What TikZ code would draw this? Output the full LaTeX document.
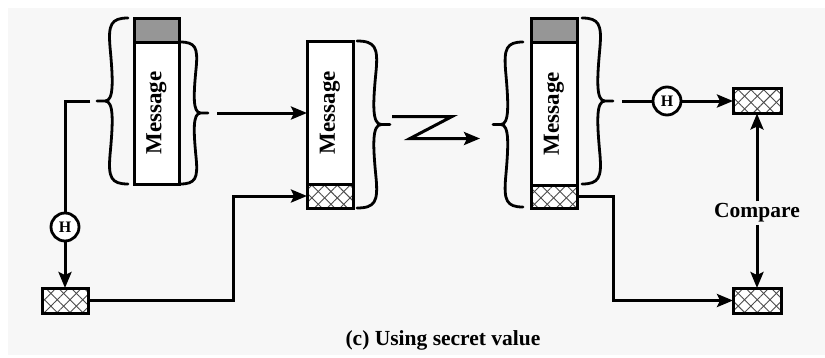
\documentclass[tikz,border=0pt]{standalone}
\usepackage{fontspec}
\setmainfont{Liberation Serif}
\usetikzlibrary{arrows.meta,patterns.meta,calc}
\definecolor{paper}{RGB}{247,247,247}
\definecolor{hdr}{RGB}{150,150,150}

% curly brace: x0, y top, y bottom, signed width, name of the tip coordinate
\newcommand\curlybrace[5]{%
  \pgfmathsetmacro\bh{(#3-#2)/2}%
  \pgfmathsetmacro\bm{(#3+#2)/2}%
  \draw[bracestyle] (#1,#2)
    .. controls ({#1+0.55*#4},#2) and ({#1+0.64*#4},{#2+0.08*\bh}) .. ({#1+0.58*#4},{#2+0.35*\bh})
    .. controls ({#1+0.48*#4},{#2+0.75*\bh}) and ({#1+0.45*#4},\bm) .. ({#1+0.74*#4},\bm)
    .. controls ({#1+0.45*#4},\bm) and ({#1+0.48*#4},{#3-0.75*\bh}) .. ({#1+0.58*#4},{#3-0.35*\bh})
    .. controls ({#1+0.64*#4},{#3-0.08*\bh}) and ({#1+0.55*#4},#3) .. (#1,#3)
    ({#1+0.74*#4},\bm) -- ({#1+#4},\bm);
  \coordinate (#5) at ({#1+#4},\bm);
}

\begin{document}
\begin{tikzpicture}[x=1pt,y=-1pt,
  every node/.style={font=\bfseries\fontsize{21.5}{24}\selectfont},
  ln/.style={line width=3pt},
  arr/.style={line width=3pt,-{Stealth[length=16pt,width=13pt,inset=3pt]}},
  bracestyle/.style={line width=2.8pt,line join=round,line cap=round},
  part/.style={draw,line width=3pt,inner sep=0pt,outer sep=0pt,anchor=north west},
  hdrbox/.style={part,fill=hdr},
  msgbox/.style={part,fill=white,font=\bfseries\fontsize{23}{25}\selectfont},
  macbox/.style={part,
    preaction={fill=white},
    preaction={pattern={Lines[angle=45,distance=9pt,line width=0.9pt]},pattern color=black!70},
    preaction={pattern={Lines[angle=-45,distance=9pt,line width=0.9pt]},pattern color=black!70}},
  hashfn/.style={circle,draw,line width=2.8pt,fill=white,inner sep=0pt,minimum size=28pt,
    font=\bfseries\fontsize{16}{18}\selectfont}
]
\useasboundingbox (0,0) rectangle (825,357);
\fill[white] (0,0) rectangle (825,357);
\fill[paper] (8,8) rectangle (825,355);

% sender: message with secret value prepended
\node[hdrbox,minimum width=45pt,minimum height=24pt] (hdrA) at (134,18) {};
\node[msgbox,minimum width=45pt,minimum height=142pt] (msgA) at (134,42) {\rotatebox{90}{Message}};
\curlybrace{128}{18}{184}{-31}{tipA}
\curlybrace{180}{42}{184}{28}{tipA2}

% hash of secret value + message
\node[hashfn] (hA) at (65,227) {H};
\node[macbox,minimum width=46pt,minimum height=25pt] (keyA) at (42,288) {};

% transmitted block
\node[msgbox,minimum width=46pt,minimum height=143pt] (msgB) at (307,41) {\rotatebox{90}{Message}};
\node[macbox,minimum width=46pt,minimum height=24pt] (macB) at (307,184) {};
\curlybrace{357}{41}{208}{33}{tipB}

% receiver
\node[hdrbox,minimum width=46pt,minimum height=24pt] (hdrC) at (531,18) {};
\node[msgbox,minimum width=46pt,minimum height=143pt] (msgC) at (531,42) {\rotatebox{90}{Message}};
\node[macbox,minimum width=46pt,minimum height=23pt] (macC) at (531,185) {};
\curlybrace{523}{42}{207}{-30}{tipC}
\curlybrace{582}{18}{184}{31}{tipC2}

\node[hashfn] (hB) at (667,101) {H};
\node[macbox,minimum width=48pt,minimum height=25pt] (cmpA) at (733,88.5) {};
\node[macbox,minimum width=48pt,minimum height=25pt] (cmpB) at (733,288) {};
\node[inner sep=2pt] (cmp) at (757,213) {Compare};

\node (cap) at (443,340) {(c) Using secret value};

% connectors
\draw[ln] ($(tipA)+(-7,0)$) -| (hA.north);
\draw[arr] (hA.south) -- (keyA.north);
\draw[arr] (keyA.east) -- ++(145,0) |- (macB.west);
\draw[arr] ($(tipA2)+(9,0)$) -- (msgB.west |- tipA2);
\draw[arr] ($(tipB)+(2,-8)$) -- ++(60,0) -- ++(-42,22) -- ++(70,0);
\draw[ln] ($(tipC2)+(9,0)$) -- (hB.west);
\draw[arr] (hB.east) -- (cmpA.west);
\draw[arr] (cmp.north) -- (cmpA.south);
\draw[arr] (cmp.south) -- (cmpB.north);
\draw[arr] (macC.east) -- ++(36,0) |- (cmpB.west);
\end{tikzpicture}
\end{document}
